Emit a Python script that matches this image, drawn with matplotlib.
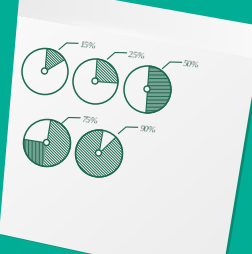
import numpy as np
import matplotlib.pyplot as plt
from matplotlib.patches import Polygon, Wedge, Circle

# pie values and their labels
values = [15, 25, 50, 75, 90]
labels = ['15%', '25%', '50%', '75%', '90%']

# layout, in pixels of the 253x255 canvas
centers = [(45, 72.5), (95.5, 82.5), (147.5, 90.5), (47, 144), (99, 154.5)]
radii = [23, 22.5, 23.5, 23.5, 23.5]
starts = [5, 4, 4, 9, 46]          # deg, clockwise from 12 o'clock
hatches = ['\\' * 13, '\\' * 12, '-' * 12, '\\' * 12, '\\' * 12]
splits = [None, None, None, 0.67, None]   # where pie 4 switches to vertical hatch
label_xy = [(80, 45.5), (128.5, 55), (183.5, 64.5), (82, 120), (139.5, 129.5)]

teal = '#02ad95'
green = '#1e6a50'
plt.rcParams['hatch.linewidth'] = 0.7

W, H = 253, 255
fig = plt.figure(figsize=(W / 100, H / 100), dpi=100)
fig.patch.set_facecolor(teal)
ax = fig.add_axes([0, 0, 1, 1])
ax.set_facecolor(teal)

# the sheet of paper
paper_xy = [(20.3, -15.8), (263.5, 27.5), (221, 283), (-1, 234.8)]
ax.add_patch(Polygon([(x + 2.5, y + 1.2) for x, y in paper_xy],
                     fc='#078a74', ec='none', zorder=0.5))
paper = Polygon(paper_xy, fc='none', ec='none', zorder=0.6)
ax.add_patch(paper)

yy, xx = np.mgrid[0:H, 0:W] + 0.5
g = 0.982 - 0.025 * xx / W - 0.03 * yy / H
fold = 16 + (xx - 13) * 0.179
band = yy < fold
g[band] = (0.915 + 0.06 * xx / W)[band]
d = np.clip(fold - yy, 0, None)
wgt = band * np.exp(-((xx - 125) / 55) ** 2) * np.exp(-(d / 6) ** 2)
g = g + (0.978 - g) * wgt
img = ax.imshow(np.dstack([g, g, g]), extent=[0, W, H, 0], zorder=1,
                interpolation='bilinear')
img.set_clip_path(paper)

# pies
for v, c, r, a0, h, s in zip(values, centers, radii, starts, hatches, splits):
    span = 360 * v / 100
    a1 = a0 + span
    if s is None:
        parts = [(a0, a1, h)]
    else:
        am = a0 + s * span
        parts = [(a0, am, h), (am, a1, '|' * 12)]
    for t1, t2, hh in parts:
        # y axis is inverted, so data angles run clockwise on screen
        ax.add_patch(Wedge(c, r, t1 - 90, t2 - 90, fc='none', ec=green,
                           lw=0, hatch=hh, zorder=2))
    ax.add_patch(Wedge(c, r, a0 - 90, a1 - 90, fc='none', ec=green,
                       lw=0.8, zorder=3))
    ax.add_patch(Circle(c, r, fill=False, ec=green, lw=1.1, zorder=3))
    ax.add_patch(Circle((c[0] - 0.5, c[1] - 0.5), 3, fc='#f6f6f6', ec=green,
                        lw=1.0, zorder=4))

# leaders and labels
for (tx, ty), lab in zip(label_xy, labels):
    ax.plot([tx - 21, tx - 13.5, tx - 2], [ty + 5, ty - 1.5, ty - 1.2],
            color=green, lw=0.8, zorder=3)
    ax.text(tx, ty, lab, fontsize=6.5, style='italic', family='Liberation Serif',
            color='#52706a', va='center', ha='left', rotation=-6,
            rotation_mode='anchor', zorder=5)

ax.set_xlim(0, W)
ax.set_ylim(H, 0)
ax.set_aspect('auto')
ax.axis('off')

fig.savefig('out.png', dpi=100, facecolor=teal)
